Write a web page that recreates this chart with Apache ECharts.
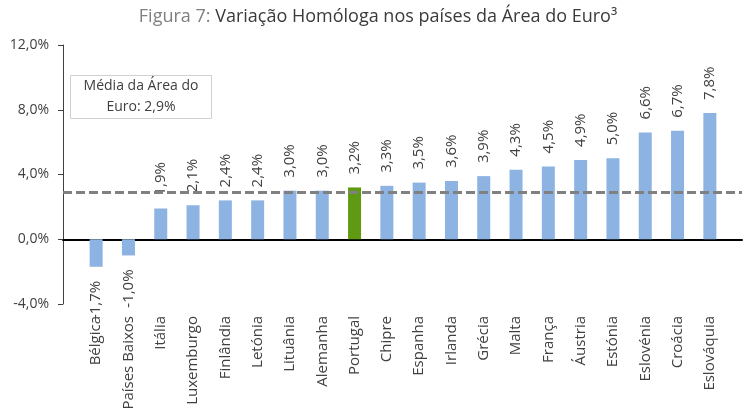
<!DOCTYPE html>
<html>
<head>
<meta charset="utf-8">
<script src="https://cdn.jsdelivr.net/npm/echarts@6/dist/echarts.min.js"></script>
<style>
  html, body { margin: 0; padding: 0; background: #fff; }
  #chart { width: 756px; height: 417px; }
</style>
</head>
<body>
<div id="chart"></div>
<script>
// dados
const countries = ['Bélgica', 'Países Baixos', 'Itália', 'Luxemburgo', 'Finlândia', 'Letónia', 'Lituânia',
  'Alemanha', 'Portugal', 'Chipre', 'Espanha', 'Irlanda', 'Grécia', 'Malta', 'França', 'Áustria',
  'Estónia', 'Eslovénia', 'Croácia', 'Eslováquia']
const variation = [-1.7, -1.0, 1.9, 2.1, 2.4, 2.4, 3.0, 3.0, 3.2, 3.3, 3.5, 3.6, 3.9, 4.3, 4.5, 4.9, 5.0, 6.6, 6.7, 7.8]
const euroAverage = 2.9
const highlight = 'Portugal'
const yTicks = [-4, 0, 4, 8, 12]

const fmt = v => v.toFixed(1).replace('.', ',') + '%'
const FONT = 'Open Sans'

const chart = echarts.init(document.getElementById('chart'))

chart.setOption({
  animation: false,
  textStyle: { fontFamily: FONT },
  title: [
    {
      text: '{a|Figura 7: }{b|Variação Homóloga nos países da Área do Euro³}',
      left: 'center',
      top: 3,
      textStyle: {
        rich: {
          a: { fontSize: 18, fontWeight: 'normal', color: '#7f7f7f', fontFamily: FONT },
          b: { fontSize: 18, fontWeight: 'normal', color: '#3a3a3a', fontFamily: FONT }
        }
      }
    },
    {
      text: '{c|Média da Área do}\n{c|Euro: ' + fmt(euroAverage) + '}',
      left: 70,
      top: 72,
      padding: [4, 8, 4, 8],
      borderColor: '#d0d0d0',
      borderWidth: 1,
      textStyle: {
        rich: {
          c: { width: 126, align: 'center', fontSize: 14, fontWeight: 'normal', color: '#404040', lineHeight: 21, fontFamily: FONT }
        }
      }
    }
  ],
  grid: [
    { left: 63, right: 14, top: 45, bottom: 113 },
    { left: 80, right: 30, top: 45, bottom: 113 }
  ],
  xAxis: [
    {
      gridIndex: 0,
      type: 'category',
      data: countries,
      axisLine: { onZero: true, lineStyle: { color: '#000', width: 2 } },
      axisTick: { show: false },
      axisLabel: { show: false }
    },
    {
      gridIndex: 1,
      type: 'category',
      data: countries,
      position: 'bottom',
      axisLine: { show: false, onZero: false },
      axisTick: { show: false },
      axisLabel: { rotate: 90, margin: 12, fontSize: 15, color: '#404040', interval: 0 }
    }
  ],
  yAxis: [
    {
      gridIndex: 0,
      type: 'value',
      min: yTicks[0],
      max: yTicks[yTicks.length - 1],
      interval: 4,
      splitLine: { show: false },
      axisLine: { show: true, lineStyle: { color: '#404040', width: 1 } },
      axisTick: { show: true, length: 5, lineStyle: { color: '#404040' } },
      axisLabel: { formatter: v => fmt(v), fontSize: 14, color: '#404040', margin: 14 }
    },
    {
      gridIndex: 1,
      type: 'value',
      min: yTicks[0],
      max: yTicks[yTicks.length - 1],
      interval: 4,
      show: false
    }
  ],
  series: [
    {
      type: 'bar',
      xAxisIndex: 1,
      yAxisIndex: 1,
      barWidth: 13,
      z: 2,
      data: variation.map((v, i) => ({
        value: v,
        itemStyle: { color: countries[i] === highlight ? '#5f9a12' : '#8db3e2' },
        label: v < 0
          ? { position: 'bottom', distance: 14, align: 'right' }
          : { position: 'top', distance: 13, align: 'left' }
      })),
      label: {
        show: true,
        rotate: 90,
        verticalAlign: 'middle',
        fontSize: 15,
        color: '#404040',
        formatter: p => fmt(p.value)
      }
    },
    {
      type: 'line',
      xAxisIndex: 0,
      yAxisIndex: 0,
      data: [],
      z: 5,
      markLine: {
        silent: true,
        symbol: ['none', 'none'],
        label: { show: false },
        lineStyle: { color: '#808080', width: 3, type: [9, 4] },
        data: [{ yAxis: euroAverage }]
      }
    }
  ]
})
</script>
</body>
</html>
